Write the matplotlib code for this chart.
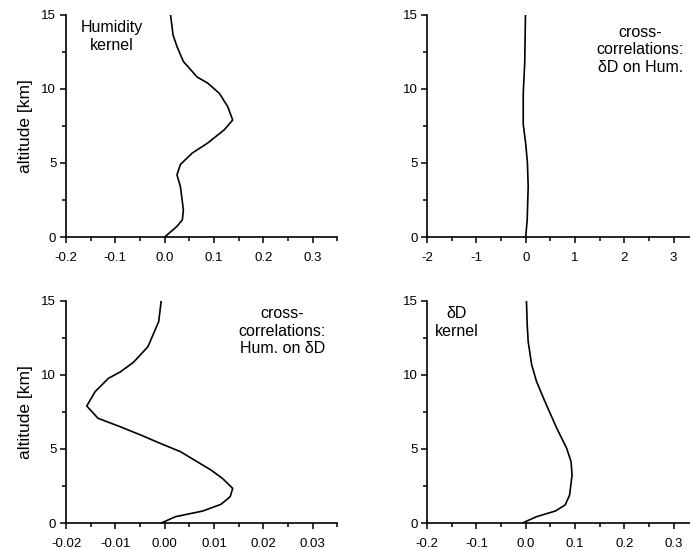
import matplotlib
matplotlib.use("Agg")
import matplotlib.pyplot as plt
from matplotlib.ticker import MultipleLocator

plt.rcParams["font.family"] = ["Liberation Sans", "DejaVu Sans"]

# Humidity kernel
hum_x = [0.0, 0.025, 0.036, 0.038, 0.032, 0.025, 0.032, 0.056, 0.087, 0.121,
         0.138, 0.128, 0.111, 0.087, 0.066, 0.038, 0.025, 0.017, 0.012]
hum_y = [0.0, 0.72, 1.17, 1.84, 3.4, 4.2, 4.9, 5.67, 6.34, 7.24,
         7.9, 8.8, 9.7, 10.4, 10.8, 11.85, 12.86, 13.65, 15.0]

# cross-correlations dD on Hum.
dh_x = [0.0, 0.03, 0.05, 0.035, 0.0, -0.05, -0.05, -0.02, -0.005]
dh_y = [0.0, 1.17, 3.4, 5.0, 6.3, 7.6, 9.7, 11.8, 15.0]

# cross-correlations Hum. on dD
hd_x = [-0.0007, 0.0022, 0.0077, 0.0114, 0.0133, 0.0138, 0.0117, 0.0094, 0.0066,
        0.0032, -0.0009, -0.0049, -0.009, -0.0135, -0.0158, -0.0141, -0.0114,
        -0.009, -0.0063, -0.0034, -0.0012, -0.0007]
hd_y = [0.0, 0.43, 0.81, 1.26, 1.78, 2.34, 3.02, 3.58, 4.14,
        4.82, 5.38, 5.95, 6.5, 7.07, 7.9, 8.87, 9.77,
        10.2, 10.86, 11.9, 13.6, 15.0]

# dD kernel
dd_x = [-0.007, 0.022, 0.06, 0.08, 0.089, 0.094, 0.092, 0.083, 0.063,
        0.039, 0.022, 0.012, 0.005, 0.003, 0.0015]
dd_y = [0.0, 0.43, 0.81, 1.22, 1.89, 3.24, 4.14, 5.05, 6.4,
        8.2, 9.55, 10.7, 12.25, 13.4, 15.0]

fig = plt.figure(figsize=(6.9, 5.5), dpi=100)

panels = [
    # x, y, rect, xlim, xmajor, fmt, label, text pos, ylabel
    (hum_x, hum_y, [0.0957, 0.569, 0.393, 0.404], (-0.2, 0.35), 0.1, "{:.1f}",
     "Humidity\nkernel", (0.17, 0.975), True),
    (dh_x, dh_y, [0.619, 0.569, 0.393, 0.404], (-2, 3.5), 1, "{:.0f}",
     "cross-\ncorrelations:\nδD on Hum.", (0.786, 0.955), False),
    (hd_x, hd_y, [0.0957, 0.049, 0.393, 0.404], (-0.02, 0.035), 0.01, "{:.2f}",
     "cross-\ncorrelations:\nHum. on δD", (0.797, 0.975), True),
    (dd_x, dd_y, [0.619, 0.049, 0.393, 0.404], (-0.2, 0.35), 0.1, "{:.1f}",
     "δD\nkernel", (0.11, 0.975), False),
]


def tick_fmt(fmt):
    def f(v, pos):
        s = fmt.format(v)
        return s.lstrip("-") if abs(v) < 1e-9 else s
    return f


for x, y, rect, xlim, xmaj, fmt, label, tpos, ylab in panels:
    ax = fig.add_axes(rect)
    ax.plot(x, y, color="black", lw=1.2)
    ax.set_xlim(*xlim)
    ax.set_ylim(0, 15)
    ax.spines["top"].set_visible(False)
    ax.spines["right"].set_visible(False)
    for s in ("left", "bottom"):
        ax.spines[s].set_linewidth(1.2)
    ax.xaxis.set_major_locator(MultipleLocator(xmaj))
    ax.xaxis.set_minor_locator(MultipleLocator(xmaj / 2))
    ax.yaxis.set_major_locator(MultipleLocator(5))
    ax.yaxis.set_minor_locator(MultipleLocator(2.5))
    ax.xaxis.set_major_formatter(plt.FuncFormatter(tick_fmt(fmt)))
    ax.tick_params(which="major", direction="out", length=4, width=1.1, labelsize=9.5)
    ax.tick_params(axis="x", which="major", pad=7)
    ax.tick_params(axis="y", which="major", pad=3)
    ax.tick_params(which="minor", direction="out", length=3, width=1.1)
    if ylab:
        ax.set_ylabel("altitude [km]", fontsize=12.5, labelpad=6)
    ax.text(tpos[0], tpos[1], label, transform=ax.transAxes, ha="center", va="top",
            fontsize=11.5, linespacing=1.2)

fig.savefig("out.png", dpi=100)
